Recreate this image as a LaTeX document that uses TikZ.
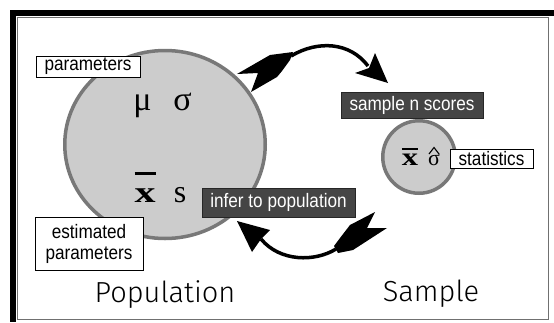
\documentclass[tikz,border=0pt]{standalone}
\usepackage{fontspec}
\setmainfont{Liberation Sans}
\newfontfamily\symfont{Liberation Serif}
\newfontfamily\hand{Fira Sans Light}
\usetikzlibrary{shapes.geometric}
\definecolor{circfill}{HTML}{CCCCCC}
\definecolor{circline}{HTML}{787878}
\definecolor{darkbox}{HTML}{454545}
\definecolor{frameline}{HTML}{707070}
\newcommand\barx[3]{\setbox0=\hbox{#3}\rlap{\raisebox{#1}{\rule{\wd0}{#2}}}\box0}
\newcommand\nar[1]{\scalebox{0.88}[1]{#1}}
\begin{document}
\begin{tikzpicture}[x=1pt,y=-1pt,
  lbl/.style={draw=black, line width=0.8pt, fill=white, inner sep=0pt, text=black,
    font=\fontsize{19.5}{21}\selectfont, align=center},
  dark/.style={draw=black!85, line width=0.8pt, fill=darkbox, inner sep=0pt, text=white,
    font=\fontsize{19.5}{20}\selectfont},
  pop/.style={draw=circline, line width=3.5pt, fill=circfill},
  greek/.style={inner sep=0pt, anchor=base, text=black},
  swoosh/.style={line width=3.5pt, black},
  barbs/.style={fill=black},
  accent/.style={line width=1.1pt, black, line join=miter},
  title/.style={inner sep=0pt, anchor=base, font=\hand\fontsize{29}{29}\selectfont}]
\useasboundingbox (0,0) rectangle (554,322);
\fill[white] (0,0) rectangle (554,322);
% frame
\fill[black] (10,10) rectangle (554,16);
\fill[black] (10,10) rectangle (16,322);
\draw[frameline, line width=1pt] (17.5,17.5) rectangle (548,319.5);
% circles
\node[pop, ellipse, minimum width=200.5pt, minimum height=188pt, inner sep=0pt] (popc) at (165,144.5) {};
\node[pop, circle, minimum size=72.5pt, inner sep=0pt] (samc) at (419,157) {};
% symbols
\node[greek, font=\symfont\fontsize{34}{34}\selectfont] (mu) at (142.5,110) {μ};
\node[greek, font=\symfont\fontsize{34}{34}\selectfont] (sigma) at (182.5,110) {σ};
\node[greek, font=\symfont\fontsize{30}{30}\selectfont] (xbar) at (145,202)
  {\barx{27.5pt}{3pt}{\scalebox{1.4}[1]{\bfseries x}}};
\node[greek, font=\symfont\fontsize{32}{32}\selectfont] (s) at (180,202) {s};
\node[greek, font=\symfont\fontsize{25}{25}\selectfont] (xbars) at (410,165)
  {\barx{15pt}{2.5pt}{\scalebox{1.3}[1]{\bfseries x}}};
\node[greek, font=\symfont\fontsize{22}{22}\selectfont] (sighat) at (434,165) {σ};
\draw[accent] (429,154) -- (434,147.5) -- (439,154);
% labels
\node[lbl, minimum width=104pt, minimum height=21pt] (params) at (88,66.5) {\nar{parameters}};
\node[lbl, minimum width=108pt, minimum height=53pt] (estp) at (89,243.5) {\nar{estimated}\\\nar{parameters}};
\node[lbl, minimum width=83pt, minimum height=19pt] (stats) at (491.5,158.5) {\nar{statistics}};
\node[dark, minimum width=142pt, minimum height=26pt] (sampn) at (412,105) {\nar{sample n scores}};
\node[dark, minimum width=153pt, minimum height=29pt] (infer) at (278.5,202.5) {\nar{infer to population}};
% titles
\node[title] (poptitle) at (165,302) {Population};
\node[title] (samtitle) at (431,301) {Sample};
% top arrow (population -> sample)
\coordinate (topstart) at (291,56);
\coordinate (topend) at (368,66);
\fill[barbs] (237,74) -- (270,55) -- (293,52) -- (290,60) -- (282,71) -- (277,77) -- (251,92) -- (258,73) -- cycle;
\draw[swoosh] (topstart) .. controls (318,40) and (350,42) .. (topend);
\fill[barbs] (388,83) -- (375,53) -- (369,68) -- (355,73) -- cycle;
% bottom arrow (sample -> population)
\coordinate (botstart) at (336,249);
\coordinate (botend) at (261,239);
\fill[barbs] (375,212) -- (367,228) -- (387,228) -- (353,250) -- (338,253) -- (334,246) -- (340,238) -- (350,225) -- cycle;
\draw[swoosh] (botstart) .. controls (315,262) and (280,262) .. (botend);
\fill[barbs] (237,221) -- (270,230) -- (261,239) -- (252,252) -- cycle;
\end{tikzpicture}
\end{document}
